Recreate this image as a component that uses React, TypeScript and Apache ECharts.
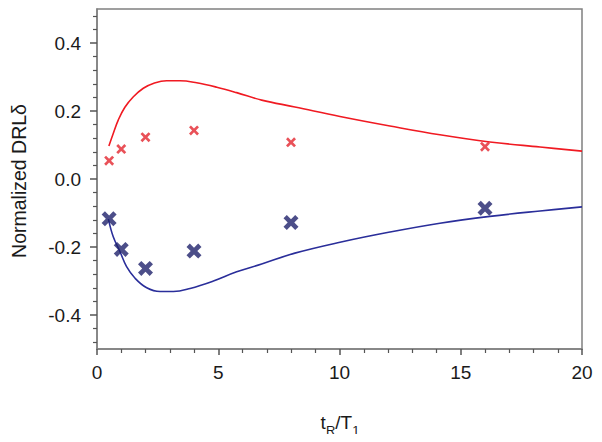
import React, { useEffect, useRef } from "react";
import * as echarts from "echarts";

// Measured points (tR/T1, normalized DRL delta)
const redMarkerX = [0.5, 1, 2, 4, 8, 16];
const redMarkerY = [0.054, 0.088, 0.123, 0.143, 0.108, 0.095];
const blueMarkerX = [0.5, 1, 2, 4, 8, 16];
const blueMarkerY = [-0.117, -0.207, -0.263, -0.212, -0.128, -0.086];

const redCurveX = [0.49, 0.67, 0.88, 1.15, 1.5, 1.91, 2.32, 2.87, 3.42, 4.11, 4.94, 5.76, 6.79, 8.16, 10.02, 12.08, 14.14, 16.2, 18.27, 20];
const redCurveY = [0.097, 0.134, 0.174, 0.211, 0.242, 0.267, 0.281, 0.289, 0.289, 0.283, 0.27, 0.254, 0.232, 0.212, 0.184, 0.156, 0.13, 0.109, 0.094, 0.082];
const blueCurveX = [0.47, 0.67, 0.95, 1.22, 1.57, 2.05, 2.6, 3.15, 3.84, 4.8, 5.76, 6.79, 8.16, 10.02, 12.08, 14.14, 16.2, 18.27, 20];
const blueCurveY = [-0.118, -0.17, -0.214, -0.258, -0.292, -0.32, -0.331, -0.331, -0.322, -0.3, -0.273, -0.25, -0.218, -0.186, -0.156, -0.13, -0.11, -0.094, -0.082];

const yMajorTicks = [-0.4, -0.2, 0, 0.2, 0.4];
const yMinorTicks = [-0.48, -0.44, -0.36, -0.32, -0.28, -0.24, -0.16, -0.12, -0.08, -0.04, 0.04, 0.08, 0.12, 0.16, 0.24, 0.28, 0.32, 0.36, 0.44, 0.48];

const xPath = (t: number) =>
  `path://M0,${t} L${t},0 L5,${5 - t} L${10 - t},0 L10,${t} L${5 + t},5 L10,${10 - t} L${10 - t},10 L5,${5 + t} L${t},10 L0,${10 - t} L${5 - t},5 Z`;

const FONT = "Liberation Sans, Arial, sans-serif";
const AXIS_COLOR = "#808080";

export default function App() {
  const ref = useRef<HTMLDivElement>(null);
  useEffect(() => {
    if (!ref.current) return;
    const chart = echarts.init(ref.current, undefined, { renderer: "svg" });
    const zip = (xs: number[], ys: number[]) => xs.map((x, i) => [x, ys[i]]);
    chart.setOption({
      animation: false,
      backgroundColor: "#ffffff",
      grid: {
        left: 97,
        top: 9,
        right: 20,
        bottom: 93,
        show: true,
        borderColor: AXIS_COLOR,
        borderWidth: 1.5,
        backgroundColor: "transparent",
        z: 0,
      },
      xAxis: {
        type: "value",
        min: 0,
        max: 20,
        interval: 5,
        z: 5,
        axisLine: { show: true, onZero: false, lineStyle: { color: AXIS_COLOR, width: 1.5 } },
        axisTick: { show: true, inside: false, length: 6, lineStyle: { color: "#555555", width: 1.5 } },
        minorTick: { show: true, splitNumber: 5, length: 4, lineStyle: { color: "#555555", width: 1.2 } },
        splitLine: { show: false },
        minorSplitLine: { show: false },
        axisLabel: { fontFamily: FONT, fontSize: 19, color: "#1a1a1a", margin: 14 },
      },
      yAxis: [
        {
          type: "value",
          min: -0.5,
          max: 0.5,
          position: "left",
          z: 5,
          axisLine: { show: true, onZero: false, lineStyle: { color: AXIS_COLOR, width: 1.5 } },
          axisTick: {
            show: true,
            inside: false,
            length: 7,
            customValues: yMajorTicks,
            lineStyle: { color: "#555555", width: 1.5 },
          },
          splitLine: { show: false },
          axisLabel: {
            customValues: yMajorTicks,
            fontFamily: FONT,
            fontSize: 19,
            color: "#1a1a1a",
            margin: 16,
            formatter: (v: number) => v.toFixed(1),
          },
        },
        {
          type: "value",
          min: -0.5,
          max: 0.5,
          position: "left",
          offset: 0,
          z: 5,
          axisLine: { show: false, onZero: false },
          axisTick: {
            show: true,
            inside: false,
            length: 4,
            customValues: yMinorTicks,
            lineStyle: { color: "#555555", width: 1.2 },
          },
          splitLine: { show: false },
          axisLabel: { show: false },
        },
      ],
      graphic: [
        {
          type: "text",
          x: 19,
          y: 181,
          rotation: Math.PI / 2,
          style: {
            text: "Normalized DRLδ",
            fontFamily: FONT,
            fontSize: 19.5,
            fill: "#1a1a1a",
            align: "center",
            verticalAlign: "middle",
          },
        },
        {
          type: "text",
          x: 340,
          y: 422,
          style: {
            text: "{m|t}{s|R}{m|/T}{s|1}",
            align: "center",
            verticalAlign: "middle",
            rich: {
              m: { fontFamily: FONT, fontSize: 19, fill: "#1a1a1a", verticalAlign: "bottom" },
              s: { fontFamily: FONT, fontSize: 13, fill: "#1a1a1a", verticalAlign: "bottom", padding: [0, 0, -5, 0] },
            },
          },
        },
      ],
      series: [
        {
          type: "line",
          yAxisIndex: 0,
          data: zip(redCurveX, redCurveY),
          smooth: 0.4,
          showSymbol: false,
          symbol: "none",
          lineStyle: { color: "#f01a22", width: 1.6 },
          z: 2,
        },
        {
          type: "line",
          yAxisIndex: 0,
          data: zip(blueCurveX, blueCurveY),
          smooth: 0.4,
          showSymbol: false,
          symbol: "none",
          lineStyle: { color: "#2a2e9a", width: 1.6 },
          z: 2,
        },
        {
          type: "scatter",
          yAxisIndex: 0,
          data: zip(redMarkerX, redMarkerY),
          symbol: xPath(1.9),
          symbolSize: 10,
          itemStyle: { color: "#e3262e" },
          z: 3,
        },
        {
          type: "scatter",
          yAxisIndex: 0,
          data: zip(blueMarkerX, blueMarkerY),
          symbol: xPath(2.2),
          symbolSize: 15,
          itemStyle: { color: "#1f226c" },
          z: 3,
        },
      ],
    });
    return () => chart.dispose();
  }, []);
  return <div ref={ref} style={{ width: 602, height: 442, margin: -8 }} />;
}
